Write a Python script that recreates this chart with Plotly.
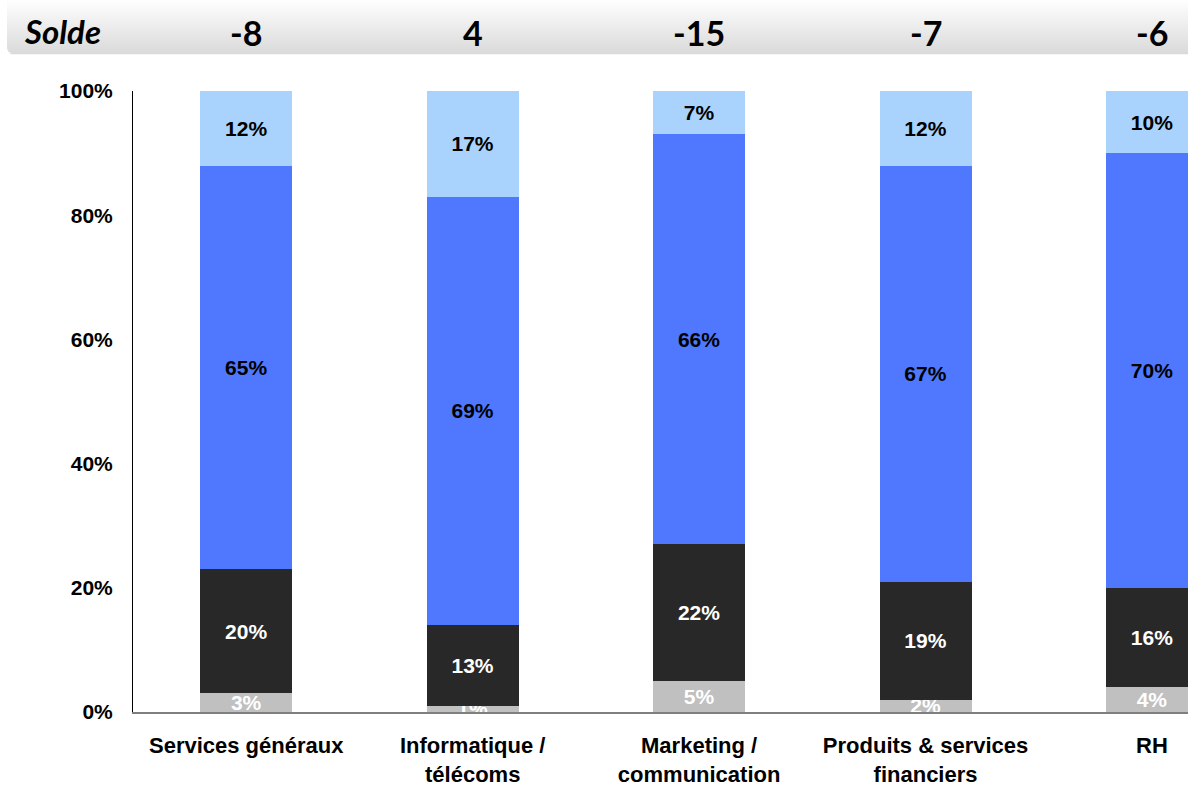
import numpy as np
import plotly.graph_objects as go

categories = ["Services généraux", "Informatique /<br>télécoms", "Marketing /<br>communication",
              "Produits & services<br>financiers", "RH"]
seg_grey = [3, 1, 5, 2, 4]
seg_dark = [20, 13, 22, 19, 16]
seg_blue = [65, 69, 66, 67, 70]
seg_light = [12, 17, 7, 12, 10]
solde = ["-8", "4", "-15", "-7", "-6"]
y_ticks = [0, 20, 40, 60, 80, 100]
y_tick_text = ["0%", "20%", "40%", "60%", "80%", "100%"]

W, H = 1188, 786
ML, MR, MT, MB = 133, 0, 91, 74
PW = W - ML - MR
PH = H - MT - MB

def px_x(px):
    return (px - ML) / PW

def px_y(py):
    return (H - MB - py) / PH

FONT = "Liberation Sans, Arial, sans-serif"
x_idx = list(range(len(categories)))

series = [
    (seg_grey, "#C0C0C0", "white"),
    (seg_dark, "#282828", "white"),
    (seg_blue, "#4F78FF", "black"),
    (seg_light, "#A9D3FC", "black"),
]

fig = go.Figure()
for vals, col, tcol in series:
    fig.add_trace(go.Bar(
        x=x_idx, y=vals, width=0.406,
        marker=dict(color=col, line=dict(width=0)),
        text=[f"{v}%" for v in vals],
        textposition="inside", insidetextanchor="middle", textangle=0,
        textfont=dict(family=FONT, size=21, color=tcol, weight="bold"),
        hoverinfo="skip", showlegend=False,
    ))

# Header band (gradient approximated with strips)
shapes = []
band_top, band_bot, band_left, band_right, r = 0, 54, 7, W, 7
c_top = np.array([255, 255, 255])
c_bot = np.array([218, 218, 218])
n = 27
edges = np.linspace(band_top, band_bot, n + 1)
for i in range(n):
    y0p, y1p = edges[i], edges[i + 1]
    t = (i + 0.5) / n
    c = (c_top + (c_bot - c_top) * t).astype(int)
    ym = (y0p + y1p) / 2
    xl = band_left
    if ym > band_bot - r:
        d = ym - (band_bot - r)
        xl = band_left + r - np.sqrt(max(r * r - d * d, 0))
    shapes.append(dict(type="rect", xref="paper", yref="paper",
                       x0=px_x(xl), x1=px_x(band_right),
                       y0=px_y(y1p + 0.3), y1=px_y(y0p),
                       fillcolor=f"rgb({c[0]},{c[1]},{c[2]})",
                       line=dict(width=0), layer="below"))

HFONT = "Lato, Open Sans, sans-serif"
annotations = [dict(text="<b><i>Solde</i></b>", xref="paper", yref="paper",
                    x=px_x(22), y=px_y(31), xanchor="left", yanchor="middle",
                    showarrow=False,
                    font=dict(family=HFONT, size=33, color="black"))]
for i, s in enumerate(solde):
    annotations.append(dict(text=f"<b>{s}</b>", xref="x", yref="paper",
                            x=i, y=px_y(32), xanchor="center", yanchor="middle",
                            showarrow=False,
                            font=dict(family=HFONT, size=34, color="black")))

fig.update_layout(
    width=W, height=H,
    margin=dict(l=ML, r=MR, t=MT, b=MB, pad=0, autoexpand=False),
    barmode="stack",
    plot_bgcolor="white", paper_bgcolor="white",
    shapes=shapes, annotations=annotations,
    uniformtext=dict(minsize=21, mode="show"),
    xaxis=dict(range=[-0.5, 4.159], tickvals=x_idx, ticktext=categories,
               showline=True, linecolor="#7F7F7F", linewidth=2,
               showgrid=False, zeroline=False, ticks="", automargin=False,
               ticklabelstandoff=13,
               tickfont=dict(family=FONT, size=22, color="black", weight="bold")),
    yaxis=dict(range=[0, 100], tickvals=y_ticks, ticktext=y_tick_text,
               showline=True, linecolor="black", linewidth=1,
               showgrid=False, zeroline=False, ticks="", automargin=False,
               ticklabelstandoff=15,
               tickfont=dict(family=FONT, size=21, color="black", weight="bold")),
)

fig.write_html("out.html", config={"displayModeBar": False},
               post_script="document.body.style.margin='0';document.body.style.overflow='hidden';")
